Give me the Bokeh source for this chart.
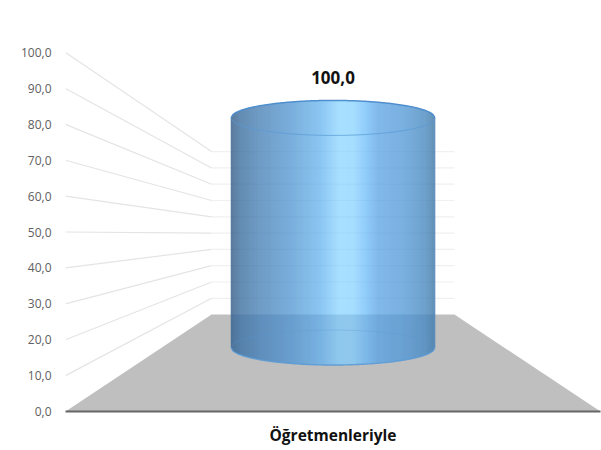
import numpy as np
from bokeh.plotting import figure
from bokeh.models import FixedTicker, Range1d
from bokeh.core.properties import value
from bokeh.embed import file_html
from bokeh.resources import INLINE

categories = ["Öğretmenleriyle"]
series_values = [100.0]
data_labels = ["100,0"]
y_ticks = [0, 10, 20, 30, 40, 50, 60, 70, 80, 90, 100]
y_tick_labels = ["0,0", "10,0", "20,0", "30,0", "40,0", "50,0", "60,0", "70,0", "80,0", "90,0", "100,0"]

# oblique projection of the 3D box: depth 0 = front plane, depth 1 = back wall
BACK_X0, BACK_X1 = 0.273, 0.727
BACK_BASE, BACK_SCALE = 27.0, 0.454
BAR_DEPTH = 0.66
BAR_WIDTH = 0.381
LID_SEMI = 4.87

def proj_y(v, d):
    return v * (1 - d) + (BACK_BASE + BACK_SCALE * v) * d

p = figure(width=601, height=450, output_backend="svg", toolbar_location=None,
           x_range=Range1d(0, 1), y_range=Range1d(0, 114.5),
           min_border_left=65, min_border_right=1, min_border_top=0, min_border_bottom=39)
p.outline_line_color = None
p.grid.visible = False
p.background_fill_color = None
p.border_fill_color = "white"

ya = p.yaxis[0]
ya.ticker = FixedTicker(ticks=y_ticks)
ya.major_label_overrides = dict(zip(y_ticks, y_tick_labels))
ya.axis_line_color = None
ya.major_tick_line_color = None
ya.minor_tick_line_color = None
ya.major_label_text_color = "#606060"
ya.major_label_text_font = "Open Sans"
ya.major_label_text_font_size = "12px"
ya.major_label_standoff = 8

xa = p.xaxis[0]
centers = [0.5 + i for i in range(len(categories))]
xa.ticker = FixedTicker(ticks=centers)
xa.major_label_overrides = dict(zip(centers, categories))
xa.axis_line_color = "#666666"
xa.axis_line_width = 2
xa.major_tick_line_color = None
xa.minor_tick_line_color = None
xa.major_label_text_color = "#111111"
xa.major_label_text_font = "Open Sans"
xa.major_label_text_font_style = "bold"
xa.major_label_text_font_size = "15.5px"
xa.major_label_standoff = 6

# floor
p.patch([0, BACK_X0, BACK_X1, 1], [0, BACK_BASE, BACK_BASE, 0], fill_color="#bfbfbf", line_color=None)

# gridlines: side wall and back wall
for t in y_ticks[1:]:
    yb = proj_y(t, 1)
    p.line([0, BACK_X0], [t, yb], line_color="#e4e4e4", line_width=1.2)
    p.line([BACK_X0, BACK_X1], [yb, yb], line_color="#f0f0f0", line_width=1.2)

# cylinder body, drawn as thin vertical strips to carry the horizontal gradient
stop_t = [0.00, 0.05, 0.15, 0.30, 0.44, 0.53, 0.60, 0.66, 0.72, 0.85, 0.95, 1.00]
stop_r = [0x52, 0x5e, 0x6b, 0x78, 0x8c, 0xa8, 0xa6, 0x92, 0x82, 0x7a, 0x6f, 0x64]
stop_g = [0x75, 0x88, 0x9a, 0xae, 0xc6, 0xe0, 0xde, 0xcd, 0xba, 0xb0, 0xa2, 0x92]
stop_b = [0x99, 0xb0, 0xc6, 0xdc, 0xf3, 0xff, 0xff, 0xfb, 0xeb, 0xe0, 0xcc, 0xb8]

cx = centers[0]
hw = BAR_WIDTH / 2
top_c = proj_y(series_values[0], BAR_DEPTH)
bot_c = proj_y(0, BAR_DEPTH)
n = 204
edges = np.linspace(cx - hw, cx + hw, n + 1)

def arc(x):
    return LID_SEMI * np.sqrt(np.clip(1 - ((x - cx) / hw) ** 2, 0, 1))

xs, ys, colors = [], [], []
for i in range(n):
    x0, x1 = edges[i], edges[i + 1]
    xr = min(x1 + 0.0006, cx + hw)
    t = (i + 0.5) / n
    r = int(np.interp(t, stop_t, stop_r))
    g = int(np.interp(t, stop_t, stop_g))
    b = int(np.interp(t, stop_t, stop_b))
    xs.append([x0, xr, xr, x0])
    ys.append([top_c + arc(x0), top_c + arc(xr), bot_c - arc(xr), bot_c - arc(x0)])
    colors.append(f"#{r:02x}{g:02x}{b:02x}")
p.patches(xs, ys, fill_color=colors, line_color=None)

# floor seen through the cylinder
fx = np.linspace(cx - hw, cx + hw, 121)
p.varea(fx, bot_c - arc(fx), np.full_like(fx, BACK_BASE), fill_color="#1f5a96", fill_alpha=0.17)

# gridlines seen through the cylinder
for t in y_ticks[1:]:
    yb = proj_y(t, 1)
    if yb < top_c - LID_SEMI:
        p.line([cx - hw, cx + hw], [yb, yb], line_color="#305070", line_alpha=0.04, line_width=1)

# outlines
p.line(fx, top_c + arc(fx), line_color="#4f8fcf", line_width=1.5)
p.line(fx, top_c - arc(fx), line_color="#5b9bd5", line_alpha=0.75, line_width=1)
p.line(fx, bot_c - arc(fx), line_color="#5b9bd5", line_alpha=0.9, line_width=1.4)
p.line(fx, bot_c + arc(fx), line_color="#5b9bd5", line_alpha=0.3, line_width=1)
p.line([cx - hw, cx - hw], [bot_c, top_c], line_color="#4f7397", line_alpha=0.6, line_width=1)
p.line([cx + hw, cx + hw], [bot_c, top_c], line_color="#5b8fc0", line_alpha=0.8, line_width=1)

# data label
p.text([cx], [top_c + LID_SEMI], text=data_labels, text_align="center", text_baseline="middle",
       y_offset=-23, text_color="#111111", text_font=value("Open Sans"),
       text_font_style="bold", text_font_size="17px")

open("out.html", "w").write(file_html(p, INLINE))
